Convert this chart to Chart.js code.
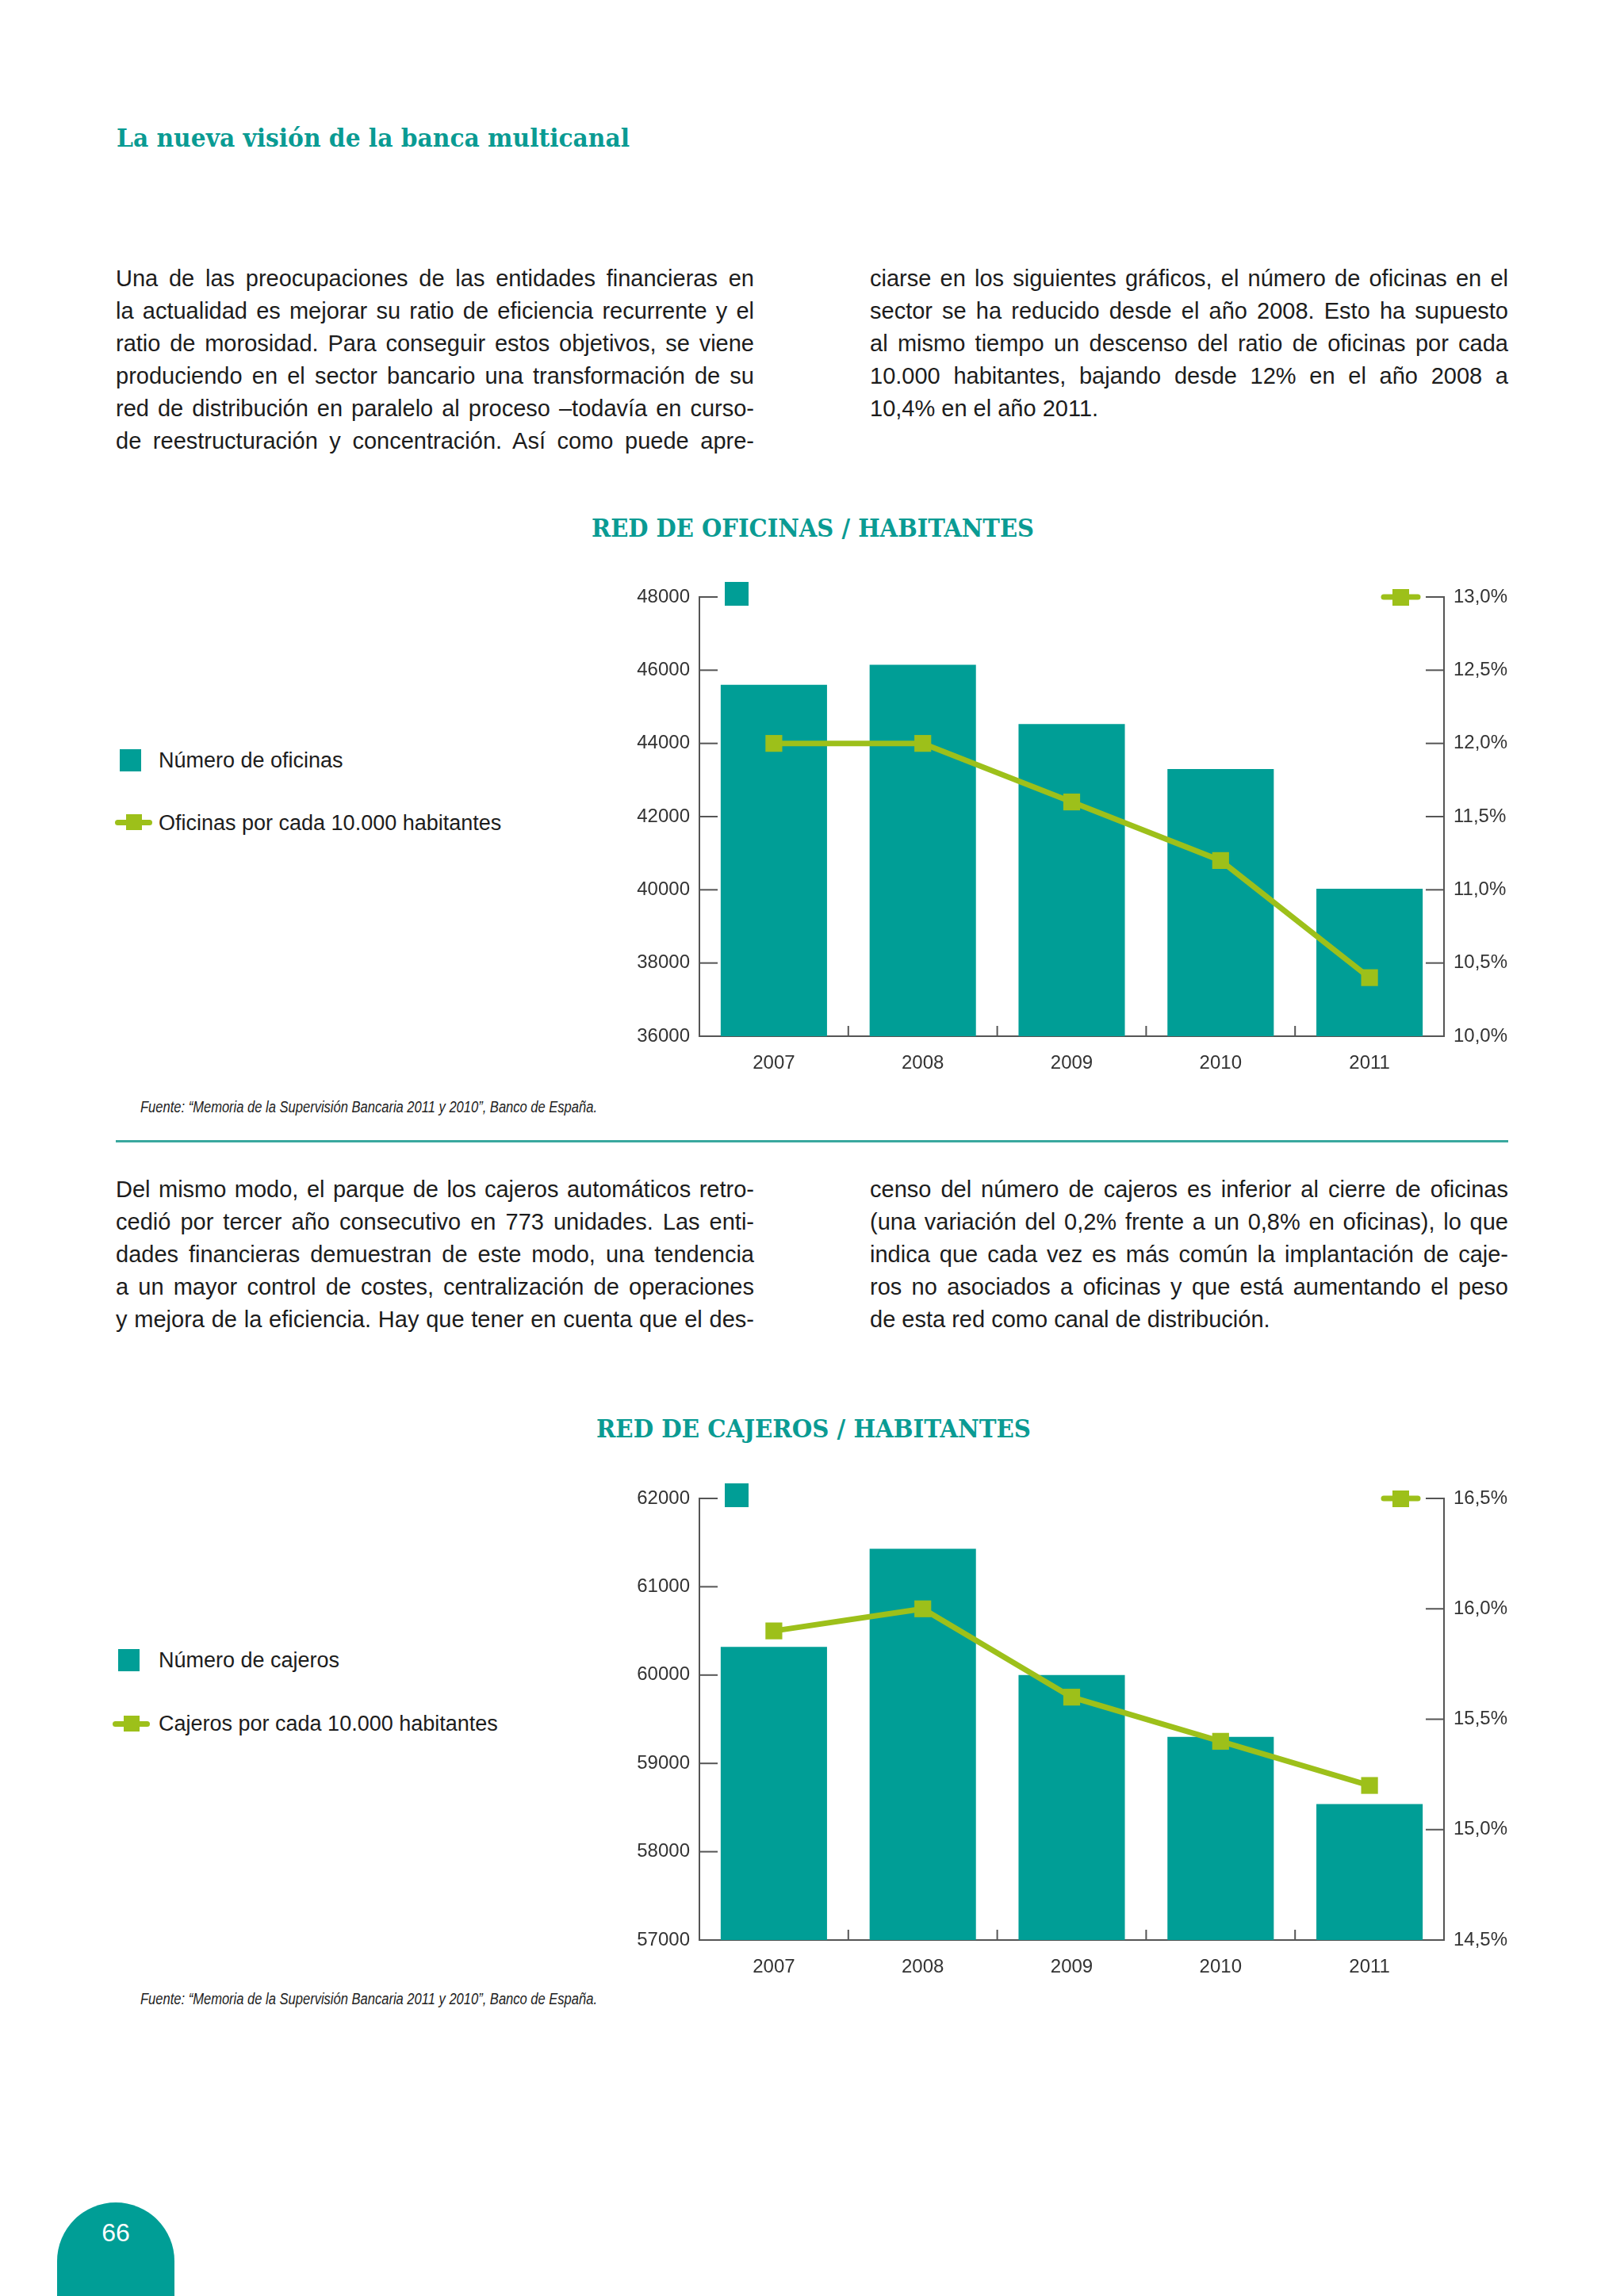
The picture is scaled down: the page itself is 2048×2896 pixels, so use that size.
<!DOCTYPE html>
<html lang="es">
<head>
<meta charset="utf-8">
<title>La nueva visión de la banca multicanal</title>
<script src="https://cdn.jsdelivr.net/npm/chart.js@4.4.0/dist/chart.umd.min.js"></script>
<style>
  html, body { margin: 0; padding: 0; background: #ffffff; }
  body {
    width: 2048px; height: 2896px; position: relative; overflow: hidden;
    font-family: "Liberation Sans", Arial, sans-serif; color: #1c1c1c;
  }
  .abs { position: absolute; }
  .slab {
    font-family: "DejaVu Serif Condensed", "DejaVu Serif", serif;
    font-weight: bold; color: #0a9b93; white-space: nowrap;
    line-height: 1; transform-origin: 0 0;
  }
  .col { width: 805px; font-size: 29px; line-height: 41px; }
  .col div { text-align: justify; text-align-last: justify; }
  .col div.last { text-align-last: left; }
  .legend { font-size: 27px; line-height: 27px; white-space: nowrap; left: 200px; }
  .sq { background: #009e96; width: 27px; height: 28px; }
  .lkey { width: 47px; height: 7px; background: #9dc01a; border-radius: 4px; }
  .lkey::after {
    content: ""; position: absolute; left: 14px; top: -7px;
    width: 20px; height: 20px; background: #9dc01a;
  }
  .fuente {
    font-style: italic; font-size: 20px; line-height: 20px; white-space: nowrap;
    left: 177px; transform-origin: 0 0; color: #222;
  }
  .rule { left: 146px; width: 1756px; height: 3px; background: #3aa89f; top: 1438px; }
  .tab {
    left: 72px; top: 2778px; width: 148px; height: 118px; background: #009e96;
    border-radius: 74px 74px 0 0;
  }
  .pagenum {
    left: 72px; width: 148px; top: 2800px; text-align: center;
    color: #ffffff; font-size: 32px; line-height: 32px;
  }
  canvas { position: absolute; }
</style>
</head>
<body>

<div class="abs slab" id="heading" style="left:147px; top:159px; font-size:31px;">La nueva visión de la banca multicanal</div>

<!-- primer bloque de texto -->
<div class="abs col" style="left:146px; top:331px;">
  <div>Una de las preocupaciones de las entidades financieras en</div>
  <div>la actualidad es mejorar su ratio de eficiencia recurrente y el</div>
  <div>ratio de morosidad. Para conseguir estos objetivos, se viene</div>
  <div>produciendo en el sector bancario una transformación de su</div>
  <div>red de distribución en paralelo al proceso –todavía en curso-</div>
  <div>de reestructuración y concentración. Así como puede apre-</div>
</div>
<div class="abs col" style="left:1097px; top:331px;">
  <div>ciarse en los siguientes gráficos, el número de oficinas en el</div>
  <div>sector se ha reducido desde el año 2008. Esto ha supuesto</div>
  <div>al mismo tiempo un descenso del ratio de oficinas por cada</div>
  <div>10.000 habitantes, bajando desde 12% en el año 2008 a</div>
  <div class="last">10,4% en el año 2011.</div>
</div>

<div class="abs slab" id="title1" style="top:650px; font-size:32px;">RED DE OFICINAS / HABITANTES</div>

<div class="abs sq" style="left:151px; top:945px;"></div>
<div class="abs legend" style="top:946px;">Número de oficinas</div>
<div class="abs lkey" style="left:145px; top:1034px;"></div>
<div class="abs legend" style="top:1025px;">Oficinas por cada 10.000 habitantes</div>

<canvas id="chartOficinas" width="1139" height="644" style="left:782px; top:723px;"></canvas>

<div class="abs fuente" id="fuente1" style="top:1386px;">Fuente: “Memoria de la Supervisión Bancaria 2011 y 2010”, Banco de España.</div>
<div class="abs rule"></div>

<!-- segundo bloque de texto -->
<div class="abs col" style="left:146px; top:1480px;">
  <div>Del mismo modo, el parque de los cajeros automáticos retro-</div>
  <div>cedió por tercer año consecutivo en 773 unidades. Las enti-</div>
  <div>dades financieras demuestran de este modo, una tendencia</div>
  <div>a un mayor control de costes, centralización de operaciones</div>
  <div>y mejora de la eficiencia. Hay que tener en cuenta que el des-</div>
</div>
<div class="abs col" style="left:1097px; top:1480px;">
  <div>censo del número de cajeros es inferior al cierre de oficinas</div>
  <div>(una variación del 0,2% frente a un 0,8% en oficinas), lo que</div>
  <div>indica que cada vez es más común la implantación de caje-</div>
  <div>ros no asociados a oficinas y que está aumentando el peso</div>
  <div class="last">de esta red como canal de distribución.</div>
</div>

<div class="abs slab" id="title2" style="top:1786px; font-size:32px;">RED DE CAJEROS / HABITANTES</div>

<div class="abs sq" style="left:149px; top:2080px;"></div>
<div class="abs legend" style="top:2081px;">Número de cajeros</div>
<div class="abs lkey" style="left:142px; top:2171px;"></div>
<div class="abs legend" style="top:2161px;">Cajeros por cada 10.000 habitantes</div>

<canvas id="chartCajeros" width="1139" height="647" style="left:782px; top:1860px;"></canvas>

<div class="abs fuente" id="fuente2" style="top:2511px;">Fuente: “Memoria de la Supervisión Bancaria 2011 y 2010”, Banco de España.</div>

<div class="abs tab"></div>
<div class="abs pagenum">66</div>

<script>
// datos
const years = ['2007', '2008', '2009', '2010', '2011'];

const oficinas = [45600, 46150, 44530, 43300, 40030];
const oficinasRatio = [12.0, 12.0, 11.6, 11.2, 10.4];
const oficinasTicks = [36000, 38000, 40000, 42000, 44000, 46000, 48000];
const oficinasRatioTicks = [10.0, 10.5, 11.0, 11.5, 12.0, 12.5, 13.0];

const cajeros = [60320, 61430, 60000, 59300, 58540];
const cajerosRatio = [15.9, 16.0, 15.6, 15.4, 15.2];
const cajerosTicks = [57000, 58000, 59000, 60000, 61000, 62000];
const cajerosRatioTicks = [14.5, 15.0, 15.5, 16.0, 16.5];

const teal = '#009e96';
const green = '#9dc01a';
const axisColor = '#555555';
const tickFont = { family: '"Liberation Sans", Arial, sans-serif', size: 24 };

// marcas de eje hacia dentro y pequeñas claves de serie
const innerTicks = {
    id: 'innerTicks',
    afterDraw(chart) {
        const { ctx, chartArea: a, scales } = chart;
        const seg = (x1, y1, x2, y2) => {
            ctx.beginPath(); ctx.moveTo(x1, y1); ctx.lineTo(x2, y2); ctx.stroke();
        };
        ctx.save();
        ctx.strokeStyle = axisColor;
        ctx.lineWidth = 2;
        scales.y.ticks.forEach((t, i) => {
            const y = scales.y.getPixelForTick(i);
            seg(a.left, y, a.left + 23, y);
        });
        scales.y1.ticks.forEach((t, i) => {
            const y = scales.y1.getPixelForTick(i);
            seg(a.right - 23, y, a.right, y);
        });
        const n = chart.data.labels.length;
        for (let i = 0; i < n - 1; i++) {
            const x = (scales.x.getPixelForValue(i) + scales.x.getPixelForValue(i + 1)) / 2;
            seg(x, a.bottom, x, a.bottom - 13);
        }
        // clave de barras (arriba a la izquierda)
        ctx.fillStyle = teal;
        ctx.fillRect(a.left + 32, a.top - 19, 30, 30);
        // clave de línea (arriba a la derecha)
        ctx.strokeStyle = green;
        ctx.lineWidth = 7;
        ctx.lineCap = 'round';
        seg(a.right - 76, a.top, a.right - 33, a.top);
        ctx.fillStyle = green;
        ctx.fillRect(a.right - 65, a.top - 10, 21, 21);
        ctx.restore();
    }
};

function makeChart(id, bars, ratio, leftTicks, rightTicks, barLabel, lineLabel) {
    const ctx = document.getElementById(id).getContext('2d');
    return new Chart(ctx, {
        type: 'bar',
        data: {
            labels: years,
            datasets: [{
                type: 'line',
                label: lineLabel,
                data: ratio,
                yAxisID: 'y1',
                order: 0,
                borderColor: green,
                borderWidth: 7,
                tension: 0,
                pointStyle: 'rect',
                pointRadius: 15,
                pointBackgroundColor: green,
                pointBorderColor: green,
                pointBorderWidth: 0
            }, {
                label: barLabel,
                data: bars,
                yAxisID: 'y',
                order: 1,
                backgroundColor: teal,
                barPercentage: 0.714,
                categoryPercentage: 1
            }]
        },
        options: {
            responsive: false,
            animation: false,
            devicePixelRatio: 1,
            layout: { padding: { top: 30, left: 0, right: 0, bottom: 0 } },
            plugins: {
                legend: { display: false },
                tooltip: { enabled: false }
            },
            scales: {
                x: {
                    grid: { drawOnChartArea: false, drawTicks: false },
                    border: { color: axisColor, width: 2 },
                    ticks: { color: '#333', font: tickFont, padding: 20 },
                    afterFit: s => { s.height = 60; }
                },
                y: {
                    position: 'left',
                    min: leftTicks[0],
                    max: leftTicks[leftTicks.length - 1],
                    afterBuildTicks: s => { s.ticks = leftTicks.map(v => ({ value: v })); },
                    afterFit: s => { s.width = 100; },
                    grid: { drawOnChartArea: false, drawTicks: false },
                    border: { color: axisColor, width: 2 },
                    ticks: { color: '#333', font: tickFont, padding: 12, callback: v => String(v) }
                },
                y1: {
                    position: 'right',
                    min: rightTicks[0],
                    max: rightTicks[rightTicks.length - 1],
                    afterBuildTicks: s => { s.ticks = rightTicks.map(v => ({ value: v })); },
                    afterFit: s => { s.width = 100; },
                    grid: { drawOnChartArea: false, drawTicks: false },
                    border: { color: axisColor, width: 2 },
                    ticks: {
                        color: '#333', font: tickFont, padding: 12,
                        callback: v => Number(v).toFixed(1).replace('.', ',') + '%'
                    }
                }
            }
        },
        plugins: [innerTicks]
    });
}

// ajustar anchura de los textos a la del original
function fitText(id, target, cx) {
    const el = document.getElementById(id);
    const w = el.getBoundingClientRect().width;
    el.style.transform = 'scaleX(' + (target / w) + ')';
    if (cx !== undefined) el.style.left = (cx - target / 2) + 'px';
}

document.fonts.ready.then(() => {
    fitText('heading', 647);
    fitText('title1', 558, 1025);
    fitText('title2', 548, 1026);
    fitText('fuente1', 576);
    fitText('fuente2', 576);
    makeChart('chartOficinas', oficinas, oficinasRatio, oficinasTicks, oficinasRatioTicks,
        'Número de oficinas', 'Oficinas por cada 10.000 habitantes');
    makeChart('chartCajeros', cajeros, cajerosRatio, cajerosTicks, cajerosRatioTicks,
        'Número de cajeros', 'Cajeros por cada 10.000 habitantes');
});
</script>
</body>
</html>
